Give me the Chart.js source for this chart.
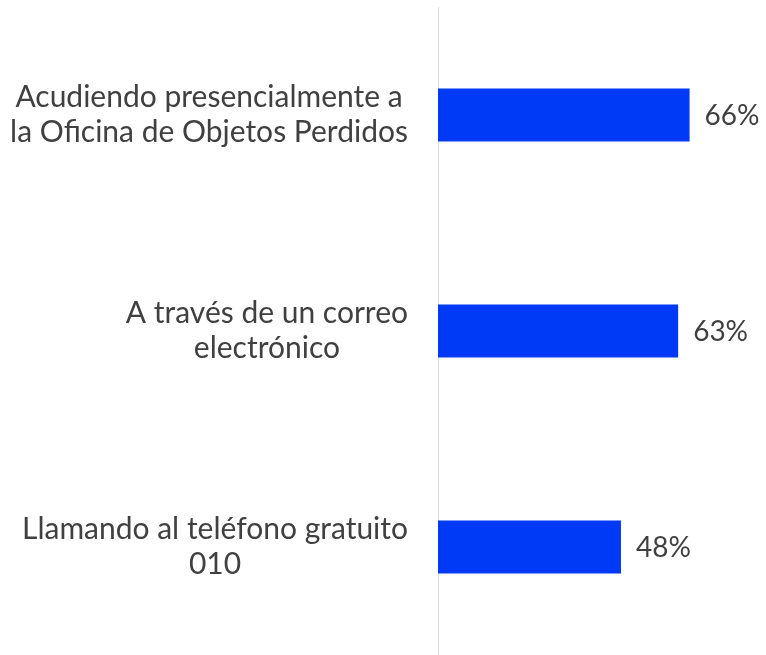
<!DOCTYPE html>
<html>
<head>
<meta charset="utf-8">
<script src="https://cdn.jsdelivr.net/npm/chart.js@4"></script>
<style>
  html, body { margin: 0; padding: 0; background: #ffffff; }
  #wrap { width: 766px; height: 655px; }
</style>
</head>
<body>
<div id="wrap"><canvas id="chart" width="766" height="655"></canvas></div>
<script>
// Datos del gráfico
const categories = [
    ['Acudiendo presencialmente a', 'la Oficina de Objetos Perdidos'],
    ['A través de un correo', 'electrónico'],
    ['Llamando al teléfono gratuito', '010']
];
const values = [66, 63, 48];

const textColor = '#404040';
const fontFamily = 'Lato, "Open Sans", sans-serif';

// Etiquetas de categoría: cada bloque alineado a la derecha, líneas centradas
const categoryLabels = {
    id: 'categoryLabels',
    afterDraw(chart) {
        const ctx = chart.ctx;
        const yScale = chart.scales.y;
        const right = yScale.right - 30;
        const lineHeight = 35;
        ctx.save();
        ctx.font = '30px ' + fontFamily;
        ctx.fillStyle = textColor;
        ctx.textBaseline = 'middle';
        ctx.textAlign = 'center';
        categories.forEach((lines, i) => {
            const y = yScale.getPixelForTick(i);
            const widest = Math.max(...lines.map(l => ctx.measureText(l).width));
            const cx = right - widest / 2;
            const top = y - (lines.length - 1) * lineHeight / 2;
            lines.forEach((line, j) => ctx.fillText(line, cx, top + j * lineHeight));
        });
        ctx.restore();
    }
};

// Valores al final de cada barra
const valueLabels = {
    id: 'valueLabels',
    afterDatasetsDraw(chart) {
        const ctx = chart.ctx;
        const meta = chart.getDatasetMeta(0);
        ctx.save();
        ctx.font = '28px ' + fontFamily;
        ctx.fillStyle = textColor;
        ctx.textBaseline = 'middle';
        ctx.textAlign = 'left';
        meta.data.forEach((bar, i) => {
            ctx.fillText(values[i] + '%', bar.x + 15, bar.y + 1);
        });
        ctx.restore();
    }
};

new Chart(document.getElementById('chart').getContext('2d'), {
    type: 'bar',
    data: {
        labels: categories,
        datasets: [{
            data: values,
            backgroundColor: '#0039F6',
            borderWidth: 0,
            categoryPercentage: 1,
            barPercentage: 0.245
        }]
    },
    options: {
        indexAxis: 'y',
        responsive: false,
        animation: false,
        layout: { padding: { top: 7, bottom: 0, left: 0, right: 4 } },
        plugins: {
            legend: { display: false },
            tooltip: { enabled: false }
        },
        scales: {
            x: {
                display: false,
                min: 0,
                max: 85
            },
            y: {
                grid: { display: false, drawTicks: false },
                border: { display: true, color: '#d9d9d9', width: 1 },
                ticks: { display: false },
                afterFit(scale) { scale.width = 438; }
            }
        }
    },
    plugins: [categoryLabels, valueLabels]
});
</script>
</body>
</html>
